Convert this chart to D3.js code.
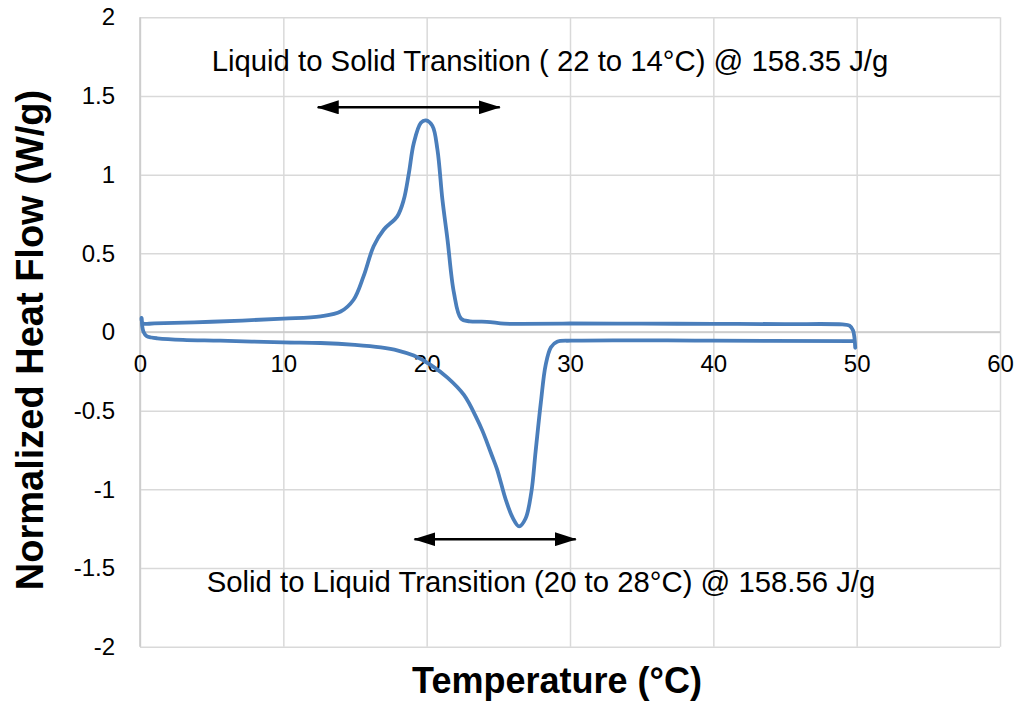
<!DOCTYPE html>
<html>
<head>
<meta charset="utf-8">
<script src="https://cdn.jsdelivr.net/npm/d3@7"></script>
<style>
  html, body { margin: 0; padding: 0; background: #fff; }
  svg { display: block; font-family: "Liberation Sans", Arial, sans-serif; }
</style>
</head>
<body>
<svg id="chart" width="1014" height="702"></svg>
<script>
// DSC thermogram: cooling branch (50 -> 0 °C) followed by heating branch (0 -> 50 °C)
const coolingTemp = [49.9, 49.85, 49.75, 49.5, 49.0, 45, 40, 35, 30, 26.6, 25.4, 24.2, 23.0, 22.4,
  21.9, 21.45, 21.1, 20.75, 20.4, 19.95, 19.6, 19.1, 18.76, 18.4, 17.95, 17.0, 16.3, 15.6, 14.9,
  14.0, 12.6, 10, 5, 1, 0.2, 0.1];
const coolingFlow = [-0.10, -0.04, 0.01, 0.04, 0.048, 0.05, 0.052, 0.053, 0.054, 0.052, 0.053, 0.065, 0.068, 0.085,
  0.25, 0.59, 0.84, 1.16, 1.31, 1.345, 1.33, 1.20, 1.01, 0.84, 0.735, 0.65, 0.545, 0.355, 0.205,
  0.13, 0.10, 0.085, 0.065, 0.055, 0.055, 0.09];

const heatingTemp = [0.12, 0.15, 0.25, 0.45, 0.8, 1.2, 3, 5.6, 10, 12.6, 15, 16.8, 18.0, 19.1, 20.3, 21.45,
  22.6, 23.5, 23.9, 24.2, 24.55, 24.9, 25.2, 25.5, 26.0, 26.45, 26.9, 27.3, 27.6, 27.97, 28.3, 28.67, 29.1, 30.1, 40, 49.8];
const heatingFlow = [0.085, 0.04, 0.0, -0.025, -0.035, -0.04, -0.05, -0.055, -0.066, -0.07, -0.082, -0.098, -0.118, -0.15, -0.21, -0.29,
  -0.40, -0.55, -0.63, -0.70, -0.785, -0.87, -0.965, -1.06, -1.18, -1.235, -1.185, -1.02, -0.76, -0.445, -0.21, -0.097, -0.062, -0.055, -0.055, -0.058];

const xTicks = [0, 10, 20, 30, 40, 50, 60];
const yTicks = [-2, -1.5, -1, -0.5, 0, 0.5, 1, 1.5, 2];

// transition ranges marked with double-headed arrows: [from °C, to °C, level W/g]
const freezeSpan = [12.4, 25.1, 1.428];
const meltSpan = [19.15, 30.4, -1.317];
const freezeLabel = "Liquid to Solid Transition ( 22 to 14°C) @ 158.35 J/g";
const meltLabel = "Solid to Liquid Transition (20 to 28°C) @ 158.56 J/g";

const svg = d3.select("#chart");
const plotLeft = 140, plotRight = 1000, plotTop = 17.3, plotBottom = 646.7;

const x = d3.scaleLinear().domain([0, 60]).range([plotLeft, plotRight]);
const y = d3.scaleLinear().domain([-2, 2]).range([plotBottom, plotTop]);

const gridColor = "#d9d9d9";
const plainNum = d => String(d);

// horizontal gridlines
svg.append("g")
  .attr("transform", `translate(${plotLeft},0)`)
  .call(d3.axisLeft(y).tickValues(yTicks).tickSize(-(plotRight - plotLeft)).tickFormat(""))
  .call(g => g.select(".domain").remove())
  .call(g => g.selectAll("line").attr("stroke", gridColor).attr("stroke-width", 1.5));

// vertical gridlines
svg.append("g")
  .attr("transform", `translate(0,${plotBottom})`)
  .call(d3.axisBottom(x).tickValues(xTicks).tickSize(-(plotBottom - plotTop)).tickFormat(""))
  .call(g => g.select(".domain").remove())
  .call(g => g.selectAll("line").attr("stroke", gridColor).attr("stroke-width", 1.5));

// axis lines
svg.append("line").attr("x1", x(0)).attr("x2", x(0)).attr("y1", plotTop).attr("y2", plotBottom)
  .attr("stroke", "#c8c8c8").attr("stroke-width", 1.5);
svg.append("line").attr("x1", plotLeft).attr("x2", plotRight).attr("y1", y(0)).attr("y2", y(0))
  .attr("stroke", "#c8c8c8").attr("stroke-width", 1.5);

// y tick labels
svg.append("g")
  .attr("transform", `translate(${plotLeft},0)`)
  .call(d3.axisLeft(y).tickValues(yTicks).tickSize(0).tickPadding(25).tickFormat(plainNum))
  .call(g => g.select(".domain").remove())
  .call(g => g.selectAll("text").attr("font-size", 24).attr("fill", "#000")
    .attr("font-family", "Liberation Sans, Arial, sans-serif"));

// x tick labels along the zero line
svg.append("g")
  .attr("transform", `translate(0,${y(0)})`)
  .call(d3.axisBottom(x).tickValues(xTicks).tickSize(0).tickPadding(0).tickFormat(plainNum))
  .call(g => g.select(".domain").remove())
  .call(g => g.selectAll("text").attr("font-size", 24).attr("fill", "#000")
    .attr("dy", null).attr("y", 40)
    .attr("font-family", "Liberation Sans, Arial, sans-serif"));

// thermogram loop
const pts = coolingTemp.map((t, i) => [t, coolingFlow[i]])
  .concat(heatingTemp.map((t, i) => [t, heatingFlow[i]]));
const line = d3.line().x(d => x(d[0])).y(d => y(d[1])).curve(d3.curveCatmullRom.alpha(0.5));
svg.append("path").datum(pts)
  .attr("d", line)
  .attr("fill", "none")
  .attr("stroke", "#4a7ebb")
  .attr("stroke-width", 3.8)
  .attr("stroke-linejoin", "round")
  .attr("stroke-linecap", "round");

// arrowheads
const defs = svg.append("defs");
defs.append("marker")
  .attr("id", "head")
  .attr("markerUnits", "userSpaceOnUse")
  .attr("viewBox", "0 0 22 14")
  .attr("refX", 21).attr("refY", 7)
  .attr("markerWidth", 22).attr("markerHeight", 14)
  .attr("orient", "auto-start-reverse")
  .append("path").attr("d", "M0,0 L22,7 L0,14 Z").attr("fill", "#000");

[freezeSpan, meltSpan].forEach(s => {
  svg.append("line")
    .attr("x1", x(s[0])).attr("x2", x(s[1]))
    .attr("y1", y(s[2])).attr("y2", y(s[2]))
    .attr("stroke", "#000").attr("stroke-width", 2.6)
    .attr("marker-start", "url(#head)").attr("marker-end", "url(#head)");
});

// annotations
svg.append("text").attr("x", 550).attr("y", 71)
  .attr("text-anchor", "middle").attr("font-size", 29.3).attr("fill", "#000")
  .text(freezeLabel);
svg.append("text").attr("x", 541).attr("y", 592)
  .attr("text-anchor", "middle").attr("font-size", 29.3).attr("fill", "#000")
  .text(meltLabel);

// axis titles
svg.append("text").attr("x", 557).attr("y", 693)
  .attr("text-anchor", "middle").attr("font-size", 36).attr("font-weight", "bold")
  .attr("fill", "#000").text("Temperature (°C)");
svg.append("text")
  .attr("transform", "translate(42.5,340) rotate(-90)")
  .attr("text-anchor", "middle").attr("font-size", 38).attr("font-weight", "bold")
  .attr("fill", "#000").text("Normalized Heat Flow (W/g)");
</script>
</body>
</html>
